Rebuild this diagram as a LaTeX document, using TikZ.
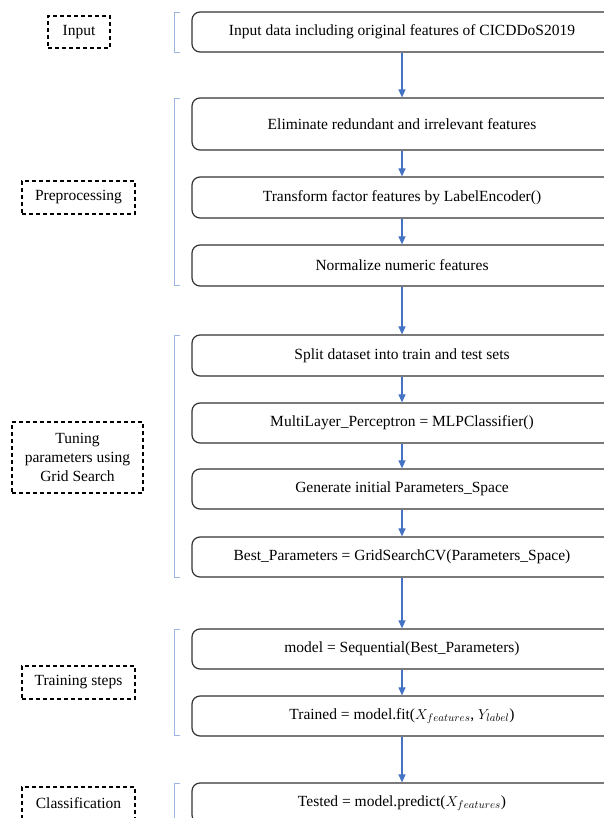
\documentclass[tikz,border=0pt]{standalone}
\usepackage{fontspec}
\setmainfont{Liberation Serif}
\usetikzlibrary{arrows.meta}

\definecolor{flowblue}{HTML}{4472C4}
\definecolor{brkblue}{HTML}{9DB5E3}

\tikzset{
  stepbox/.style={draw=black!80, line width=1.2pt, rounded corners=8pt,
    minimum width=420pt, inner sep=0pt, align=center,
    font=\fontsize{15.5}{19}\selectfont},
  tagbox/.style={draw=black, line width=1.3pt, dash pattern=on 4pt off 3pt,
    inner sep=0pt, align=center, font=\fontsize{15.5}{19}\selectfont},
  flow/.style={draw=flowblue, line width=1.1pt,
    -{Triangle[length=8pt,width=7pt]}},
  brk/.style={draw=brkblue, line width=0.9pt}
}

\begin{document}
\begin{tikzpicture}[x=1pt, y=-1pt]
    \useasboundingbox (0,0) rectangle (603,818);
    % main flow, one box per step
    \node[stepbox, minimum height=40pt] (in)    at (402,32)  {Input data including original features of CICDDoS2019};
    \node[stepbox, minimum height=52pt] (elim)  at (402,124) {Eliminate redundant and irrelevant features};
    \node[stepbox, minimum height=41pt] (trans) at (402,197.5) {Transform factor features by LabelEncoder()};
    \node[stepbox, minimum height=41pt] (norm)  at (402,265.5) {Normalize numeric features};
    \node[stepbox, minimum height=41pt] (split) at (402,355.5) {Split dataset into train and test sets};
    \node[stepbox, minimum height=40pt] (mlp)   at (402,423) {MultiLayer\_Perceptron = MLPClassifier()};
    \node[stepbox, minimum height=40pt] (gen)   at (402,489) {Generate initial Parameters\_Space};
    \node[stepbox, minimum height=40pt] (best)  at (402,557) {Best\_Parameters = GridSearchCV(Parameters\_Space)};
    \node[stepbox, minimum height=40pt] (seq)   at (402,649) {model = Sequential(Best\_Parameters)};
    \node[stepbox, minimum height=40pt] (fit)   at (402,716) {Trained = model.fit($X_{features}$, $Y_{label}$)};
    \node[stepbox, minimum height=40pt] (pred)  at (402,803) {Tested = model.predict($X_{features}$)};

    \foreach \a/\b in {in/elim, elim/trans, trans/norm, norm/split, split/mlp,
                       mlp/gen, gen/best, best/seq, seq/fit, fit/pred}
      \draw[flow] (\a) -- (\b);

    % stage labels
    \node[tagbox, minimum width=62pt, minimum height=32pt] (tin)   at (79,32)  {Input};
    \node[tagbox, minimum width=113pt, minimum height=33pt] (tpre) at (78.5,197.5) {Preprocessing};
    \node[tagbox, minimum width=131pt, minimum height=71pt] (ttun) at (77.5,457.5) {Tuning\\parameters using\\Grid Search};
    \node[tagbox, minimum width=113pt, minimum height=33pt] (ttrn) at (78.5,682.5) {Training steps};
    \node[tagbox, minimum width=113pt, minimum height=33pt] (tcls) at (78.5,803.5) {Classification};

    % brackets
    \foreach \t/\b in {12/52, 98/285, 335/577, 629/735, 783/830}
      \draw[brk] (180,\t) -- (174,\t) -- (174,\b) -- (180,\b);
  \end{tikzpicture}
\end{document}
